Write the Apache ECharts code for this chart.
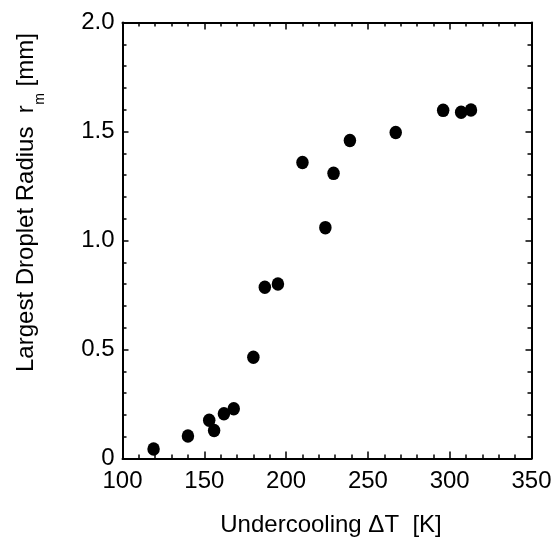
<!DOCTYPE html>
<html>
<head>
<meta charset="utf-8">
<script src="https://cdn.jsdelivr.net/npm/echarts@6/dist/echarts.min.js"></script>
<style>
html,body{margin:0;padding:0;background:#fff;}
#chart{width:556px;height:551px;}
</style>
</head>
<body>
<div id="chart"></div>
<script>
// Data
const undercooling = [119, 140, 153, 156, 162, 168, 180, 187, 195, 210, 224, 229, 239, 267, 296, 307, 313];
const radius = [0.044, 0.103, 0.175, 0.128, 0.205, 0.228, 0.464, 0.786, 0.800, 1.358, 1.059, 1.308, 1.459, 1.495, 1.597, 1.588, 1.599];
const xTicks = [100, 150, 200, 250, 300, 350];
const yTicks = [0, 0.5, 1.0, 1.5, 2.0];
const xTitle = 'Undercooling \u0394T  [K]';
const yTitleMain = 'Largest Droplet Radius  r';
const yTitleSub = 'm';
const yTitleEnd = ' [mm]';

const FONT = '"Liberation Sans", Arial, Helvetica, sans-serif';
const MAIN_FS = 24, SUB_FS = 14;

// measure text widths for laying out the rotated y title with a subscript
const mctx = document.createElement('canvas').getContext('2d');
function tw(t, fs) { mctx.font = fs + 'px ' + FONT; return mctx.measureText(t).width; }
const w1 = tw(yTitleMain, MAIN_FS), ws = tw(yTitleSub, SUB_FS), w3 = tw(yTitleEnd, MAIN_FS);

const chart = echarts.init(document.getElementById('chart'), null, {renderer: 'canvas'});
const points = undercooling.map((x, i) => [x, radius[i]]);

function xAxisCommon(extra) {
  return Object.assign({
    type: 'value',
    min: xTicks[0], max: xTicks[xTicks.length - 1], interval: xTicks[1] - xTicks[0],
    axisLine: {show: true, onZero: false, lineStyle: {color: '#000', width: 2}},
    axisTick: {show: true, inside: true, length: 7, lineStyle: {color: '#000', width: 1.5}},
    minorTick: {show: true, splitNumber: 5, length: 4, lineStyle: {color: '#000', width: 1.5}},
    splitLine: {show: false},
    minorSplitLine: {show: false}
  }, extra);
}
function yAxisCommon(extra) {
  return Object.assign({
    type: 'value',
    min: yTicks[0], max: yTicks[yTicks.length - 1], interval: yTicks[1] - yTicks[0],
    axisLine: {show: true, onZero: false, lineStyle: {color: '#000', width: 2}},
    axisTick: {show: true, inside: true, length: 6, lineStyle: {color: '#000', width: 1.5}},
    minorTick: {show: true, splitNumber: 5, length: 4, lineStyle: {color: '#000', width: 1.5}},
    splitLine: {show: false},
    minorSplitLine: {show: false}
  }, extra);
}

const titleStartY = 372;   // screen y where the rotated title begins (bottom end)
const titleMidX = 26;      // screen x of the main text's middle line

chart.setOption({
  animation: false,
  backgroundColor: '#fff',
  grid: {left: 122.5, right: 24.5, top: 22.5, bottom: 92.5, containLabel: false},
  xAxis: [
    xAxisCommon({
      position: 'bottom',
      axisLabel: {show: true, color: '#000', fontSize: 24, fontFamily: FONT, margin: 11},
      name: xTitle,
      nameLocation: 'middle',
      nameGap: 55,
      nameTextStyle: {color: '#000', fontSize: 24, fontFamily: FONT, padding: [0, 0, 0, 8]}
    }),
    xAxisCommon({position: 'top', axisLabel: {show: false}})
  ],
  yAxis: [
    yAxisCommon({
      position: 'left',
      axisLabel: {
        show: true, color: '#000', fontSize: 24, fontFamily: FONT, margin: 8,
        formatter: v => (v === 0 ? '0' : v.toFixed(1))
      }
    }),
    yAxisCommon({position: 'right', axisLabel: {show: false}})
  ],
  graphic: [{
    type: 'group',
    x: titleMidX, y: titleStartY,
    rotation: Math.PI / 2,
    children: [
      {type: 'text', x: 0, y: 0,
       style: {text: yTitleMain, fontSize: MAIN_FS, fontFamily: FONT, fill: '#000', align: 'left', verticalAlign: 'middle'}},
      {type: 'text', x: w1 + 0.5, y: 14,
       style: {text: yTitleSub, fontSize: SUB_FS, fontFamily: FONT, fill: '#000', align: 'left', verticalAlign: 'middle'}},
      {type: 'text', x: w1 + ws + 0.5, y: 0,
       style: {text: yTitleEnd, fontSize: MAIN_FS, fontFamily: FONT, fill: '#000', align: 'left', verticalAlign: 'middle'}}
    ]
  }],
  series: [{
    type: 'scatter',
    xAxisIndex: 0,
    yAxisIndex: 0,
    data: points,
    symbol: 'circle',
    symbolSize: [12.5, 13.5],
    itemStyle: {color: '#000', opacity: 1},
    emphasis: {disabled: true}
  }]
});
</script>
</body>
</html>
